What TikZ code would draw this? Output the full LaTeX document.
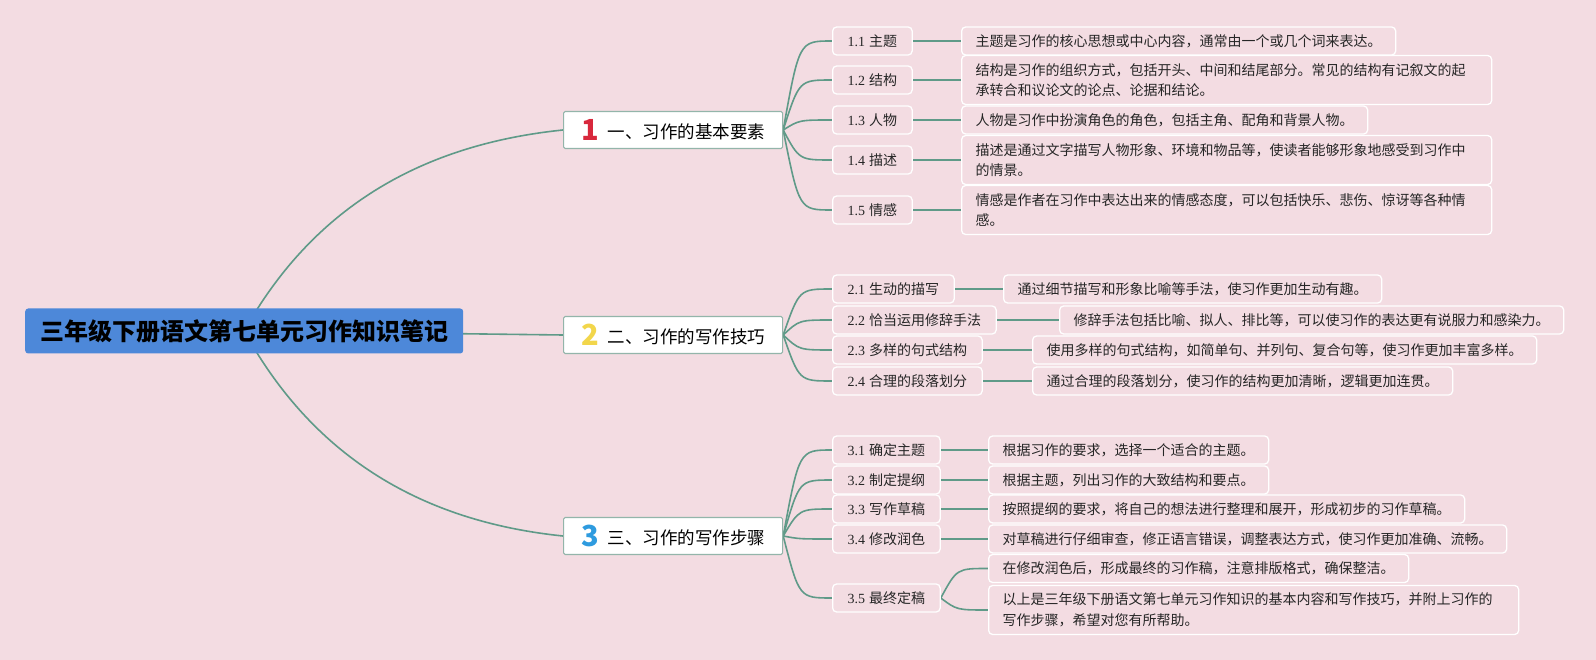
\documentclass[tikz,border=0pt]{standalone}
\usepackage{fontspec}
\setmainfont{Noto Sans CJK SC}
\newfontfamily\numf{Liberation Serif}
\usetikzlibrary{calc}
\definecolor{bgpink}{HTML}{F3DCE2}
\definecolor{linkgreen}{HTML}{5F9A88}
\definecolor{framegreen}{HTML}{93B5AA}
\definecolor{rootblue}{HTML}{4D88D9}
\definecolor{numred}{HTML}{D8283C}
\definecolor{numyellow}{HTML}{F2D64B}
\definecolor{numblue}{HTML}{2E9BDF}
\pgfdeclarelayer{back}
\pgfdeclarelayer{links}
\pgfsetlayers{back,links,main}
\newcommand{\bignum}[2]{\raisebox{-2pt}{\color{#1}\fontsize{29}{29}\selectfont\bfseries #2}\hspace{9pt}}
\newcommand{\subtxt}[2]{{\numf #1}\hspace{4pt}#2}

\begin{document}
\begin{tikzpicture}[x=1pt,y=1pt,
  rootbox/.style={fill=rootblue, rounded corners=3pt, minimum width=438pt,
    minimum height=45pt, inner sep=0pt, anchor=west,
    font=\fontsize{24}{29}\selectfont\bfseries},
  mainbox/.style={draw=framegreen, line width=1.2pt, fill=white,
    rounded corners=1.5pt, minimum width=219pt, minimum height=37pt,
    inner sep=0pt, anchor=west, font=\fontsize{17.5}{21}\selectfont},
  subbox/.style={draw=white, line width=1.3pt, fill=bgpink, rounded corners=4pt,
    minimum height=28pt, inner xsep=15pt, inner ysep=0pt, anchor=west,
    text=black!85, font=\fontsize{14}{20.5}\selectfont},
  infobox/.style={subbox, inner xsep=14pt},
  widebox/.style={infobox, text width=502pt, align=left, minimum height=49pt},
  link/.style={linkgreen, line width=1.6pt},
]
  % background
  \begin{pgfonlayer}{back}
    \fill[bgpink] (0,0) rectangle (1596,-660);
  \end{pgfonlayer}
  \useasboundingbox (0,0) rectangle (1596,-660);

  % root and main branches
  \node[rootbox] (root) at (25,-331) {三年级下册语文第七单元习作知识笔记};
  \node[mainbox] (b1) at (563,-130) {\bignum{numred}{1}一、习作的基本要素};
  \node[mainbox] (b2) at (563,-335) {\bignum{numyellow}{2}二、习作的写作技巧};
  \node[mainbox] (b3) at (563,-536) {\bignum{numblue}{3}三、习作的写作步骤};

  % branch 1
  \node[subbox] (s11) at (832,-41) {\subtxt{1.1}{主题}};
  \node[subbox] (s12) at (832,-80) {\subtxt{1.2}{结构}};
  \node[subbox] (s13) at (832,-120) {\subtxt{1.3}{人物}};
  \node[subbox] (s14) at (832,-160) {\subtxt{1.4}{描述}};
  \node[subbox] (s15) at (832,-210) {\subtxt{1.5}{情感}};
  \node[infobox] (d11) at (961,-41) {主题是习作的核心思想或中心内容，通常由一个或几个词来表达。};
  \node[widebox] (d12) at (961,-80) {结构是习作的组织方式，包括开头、中间和结尾部分。常见的结构有记叙文的起\\承转合和议论文的论点、论据和结论。};
  \node[infobox] (d13) at (961,-120) {人物是习作中扮演角色的角色，包括主角、配角和背景人物。};
  \node[widebox] (d14) at (961,-160) {描述是通过文字描写人物形象、环境和物品等，使读者能够形象地感受到习作中\\的情景。};
  \node[widebox] (d15) at (961,-210) {情感是作者在习作中表达出来的情感态度，可以包括快乐、悲伤、惊讶等各种情\\感。};

  % branch 2
  \node[subbox] (s21) at (832,-289) {\subtxt{2.1}{生动的描写}};
  \node[subbox] (s22) at (832,-320) {\subtxt{2.2}{恰当运用修辞手法}};
  \node[subbox] (s23) at (832,-350) {\subtxt{2.3}{多样的句式结构}};
  \node[subbox] (s24) at (832,-381) {\subtxt{2.4}{合理的段落划分}};
  \node[infobox] (d21) at (1003,-289) {通过细节描写和形象比喻等手法，使习作更加生动有趣。};
  \node[infobox] (d22) at (1059,-320) {修辞手法包括比喻、拟人、排比等，可以使习作的表达更有说服力和感染力。};
  \node[infobox] (d23) at (1032,-350) {使用多样的句式结构，如简单句、并列句、复合句等，使习作更加丰富多样。};
  \node[infobox] (d24) at (1032,-381) {通过合理的段落划分，使习作的结构更加清晰，逻辑更加连贯。};

  % branch 3
  \node[subbox] (s31) at (832,-450) {\subtxt{3.1}{确定主题}};
  \node[subbox] (s32) at (832,-480) {\subtxt{3.2}{制定提纲}};
  \node[subbox] (s33) at (832,-509) {\subtxt{3.3}{写作草稿}};
  \node[subbox] (s34) at (832,-539) {\subtxt{3.4}{修改润色}};
  \node[subbox] (s35) at (832,-598) {\subtxt{3.5}{最终定稿}};
  \node[infobox] (d31) at (988,-450) {根据习作的要求，选择一个适合的主题。};
  \node[infobox] (d32) at (988,-480) {根据主题，列出习作的大致结构和要点。};
  \node[infobox] (d33) at (988,-509) {按照提纲的要求，将自己的想法进行整理和展开，形成初步的习作草稿。};
  \node[infobox] (d34) at (988,-539) {对草稿进行仔细审查，修正语言错误，调整表达方式，使习作更加准确、流畅。};
  \node[infobox] (d35a) at (988,-568.5) {在修改润色后，形成最终的习作稿，注意排版格式，确保整洁。};
  \node[widebox] (d35b) at (988,-610) {以上是三年级下册语文第七单元习作知识的基本内容和写作技巧，并附上习作的\\写作步骤，希望对您有所帮助。};

  % connectors
  \begin{pgfonlayer}{links}
    \draw[link] (root.center) .. controls +(67,120) and +(-146,-15) .. (b1.west);
    \draw[link] (root.center) -- (b2.west);
    \draw[link] (root.center) .. controls +(67,-122) and +(-146,15) .. (b3.west);
    \foreach \i in {1,...,5}{
      \draw[link] (b1.east) .. controls ($(b1.east |- s1\i.west)+(16,0)$) .. (s1\i.west);
      \draw[link] (s1\i.east) -- (d1\i.west);
    }
    \foreach \i in {1,...,4}{
      \draw[link] (b2.east) .. controls ($(b2.east |- s2\i.west)+(16,0)$) .. (s2\i.west);
      \draw[link] (s2\i.east) -- (d2\i.west);
    }
    \foreach \i in {1,...,5}{
      \draw[link] (b3.east) .. controls ($(b3.east |- s3\i.west)+(16,0)$) .. (s3\i.west);
    }
    \foreach \i in {1,...,4}{
      \draw[link] (s3\i.east) -- (d3\i.west);
    }
    \foreach \j in {a,b}{
      \draw[link] (s35.east) .. controls ($(s35.east |- d35\j.west)+(16,0)$) .. (d35\j.west);
    }
  \end{pgfonlayer}
\end{tikzpicture}
\end{document}
